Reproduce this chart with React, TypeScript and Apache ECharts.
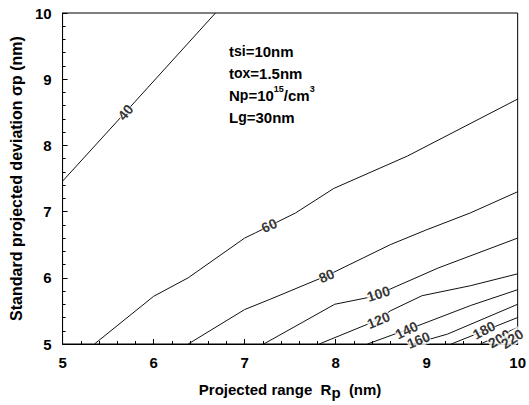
import React, { useEffect, useRef } from "react";
import * as echarts from "echarts";

// Contour lines (Rp nm, sigma_p nm)
const level40 = [[5.0, 7.46], [5.69, 8.5], [6.68, 10.0]];
const level60 = [[5.35, 5.0], [6.0, 5.72], [6.38, 6.0], [7.0, 6.6], [7.12, 6.68], [7.56, 6.98], [7.98, 7.35], [8.79, 7.84], [10.0, 8.7]];
const level80 = [[6.38, 5.0], [7.0, 5.52], [7.27, 5.67], [7.9, 6.03], [8.6, 6.5], [8.99, 6.72], [9.48, 6.98], [10.0, 7.3]];
const level100 = [[7.21, 5.0], [7.99, 5.6], [8.35, 5.7], [8.6, 5.83], [9.13, 6.15], [10.0, 6.6]];
const level120 = [[7.82, 5.0], [8.46, 5.36], [8.6, 5.5], [8.95, 5.73], [9.48, 5.88], [10.0, 6.06]];
const level140 = [[8.35, 5.0], [8.95, 5.3], [9.48, 5.58], [10.0, 5.82]];
const level160 = [[8.85, 5.0], [9.23, 5.15], [10.0, 5.6]];
const level180 = [[9.27, 5.0], [10.0, 5.4]];
const level200 = [[9.59, 5.0], [10.0, 5.25]];
const level220 = [[9.84, 5.0], [10.0, 5.1]];

const levelValues = [40, 60, 80, 100, 120, 140, 160, 180, 200, 220];
const levelLines = [level40, level60, level80, level100, level120, level140, level160, level180, level200, level220];

// Contour label anchor points (data coords)
const labelPoints = [[5.69, 8.5], [7.27, 6.79], [7.9, 6.03], [8.47, 5.76], [8.47, 5.36], [8.78, 5.21], [8.91, 5.06], [9.63, 5.21], [9.8, 5.08], [9.94, 5.08]];
const labelAngles = [50, 24, 24, 18, 22, 26, 22, 28, 30, 34];

const xTicks = [5, 6, 7, 8, 9, 10];
const yTicks = [5, 6, 7, 8, 9, 10];

const FONT = "'Liberation Sans', Arial, sans-serif";

export default function App() {
  const ref = useRef<HTMLDivElement>(null);
  useEffect(() => {
    if (!ref.current) return;
    document.body.style.margin = "0";
    const chart = echarts.init(ref.current, undefined, { renderer: "svg" });
    const lineSeries = levelLines.map((pts, i) => ({
      type: "line",
      name: String(levelValues[i]),
      data: pts,
      symbol: "none",
      smooth: false,
      lineStyle: { color: "#111", width: 1 },
      z: 2,
    }));
    const labelSeries = {
      type: "scatter",
      symbolSize: 0,
      z: 5,
      data: labelPoints.map((p, i) => ({
        value: p,
        label: {
          show: true,
          formatter: String(levelValues[i]),
          rotate: labelAngles[i],
          position: "inside",
          color: "#000",
          fontWeight: "bold",
          fontSize: 14,
          fontFamily: FONT,
          backgroundColor: "#fff",
          padding: [0, 0],
        },
      })),
    };
    chart.setOption({
      animation: false,
      grid: {
        left: 52,
        right: 8,
        top: 13,
        bottom: 58,
        show: true,
        borderColor: "#000",
        borderWidth: 1,
      },
      xAxis: {
        type: "value",
        min: xTicks[0],
        max: xTicks[xTicks.length - 1],
        interval: 1,
        name: "Projected range  R{sub|p}  (nm)",
        nameLocation: "middle",
        nameGap: 34,
        nameTextStyle: {
          fontFamily: FONT,
          fontWeight: "bold",
          fontSize: 15,
          color: "#000",
          rich: {
            sub: { fontFamily: FONT, fontWeight: "bold", fontSize: 15, color: "#000", padding: [7, 0, 0, 0] },
          },
        },
        axisLine: { lineStyle: { color: "#000", width: 1 } },
        axisTick: { inside: true, length: 5, lineStyle: { color: "#000" } },
        minorTick: { show: true, splitNumber: 5, length: 3, lineStyle: { color: "#000" } },
        splitLine: { show: false },
        axisLabel: { color: "#000", fontWeight: "bold", fontSize: 15, fontFamily: FONT, margin: 11 },
      },
      yAxis: {
        type: "value",
        min: yTicks[0],
        max: yTicks[yTicks.length - 1],
        interval: 1,
        name: "Standard projected deviation σp (nm)",
        nameLocation: "middle",
        nameGap: 31,
        nameTextStyle: { fontFamily: FONT, fontWeight: "bold", fontSize: 16, color: "#000" },
        axisLine: { lineStyle: { color: "#000", width: 1 } },
        axisTick: { inside: true, length: 5, lineStyle: { color: "#000" } },
        minorTick: { show: true, splitNumber: 5, length: 3, lineStyle: { color: "#000" } },
        splitLine: { show: false },
        axisLabel: { color: "#000", fontWeight: "bold", fontSize: 15, fontFamily: FONT, margin: 11 },
      },
      graphic: [
        {
          type: "text",
          left: 229,
          top: 40,
          style: {
            text: "t{s|si}=10nm\nt{s|ox}=1.5nm\nN{s|p}=10{sup|15}/cm{sup|3}\nL{s|g}=30nm",
            fontFamily: FONT,
            fontWeight: "bold",
            fontSize: 15,
            lineHeight: 22,
            fill: "#000",
            rich: {
              s: { fontFamily: FONT, fontWeight: "bold", fontSize: 14, fill: "#000", lineHeight: 22 },
              sup: { fontFamily: FONT, fontWeight: "bold", fontSize: 9, fill: "#000", verticalAlign: "top", lineHeight: 22, padding: [0, 0, 8, 0] },
            },
          },
        },
      ],
      series: [...lineSeries, labelSeries],
    });
    return () => chart.dispose();
  }, []);
  return <div ref={ref} style={{ width: 529, height: 405 }} />;
}
